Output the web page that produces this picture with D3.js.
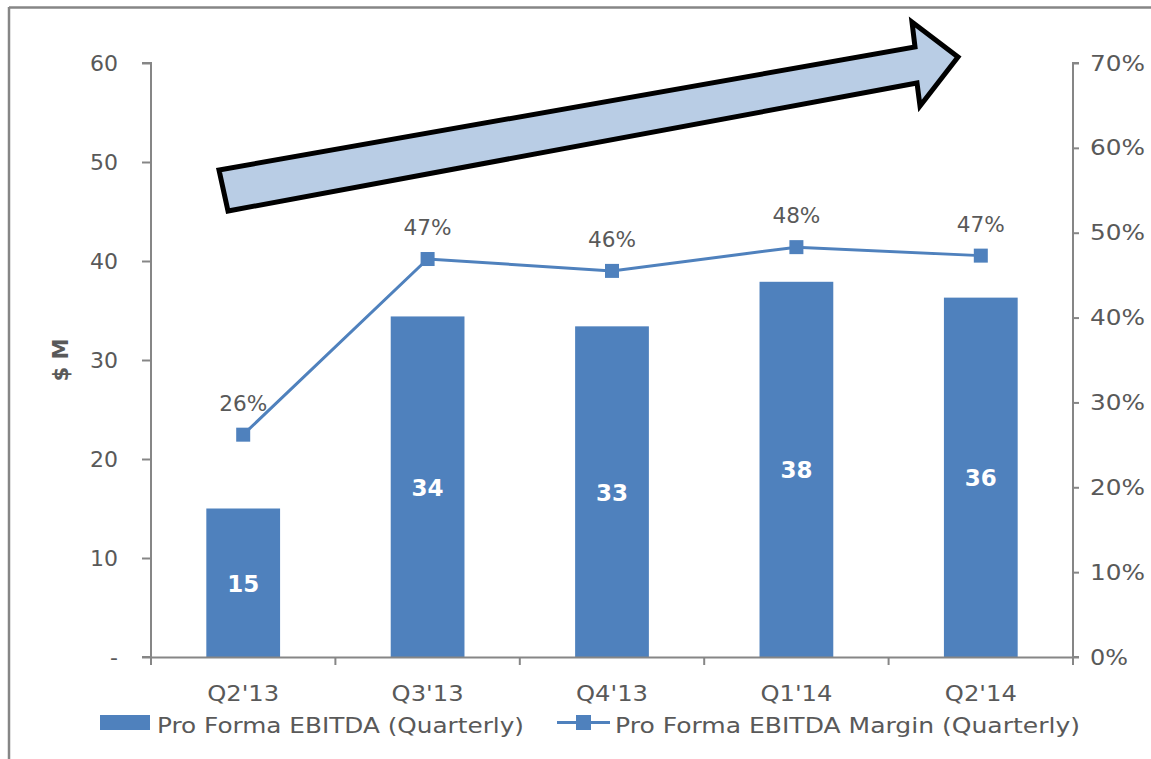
<!DOCTYPE html>
<html>
<head>
<meta charset="utf-8">
<script src="https://cdn.jsdelivr.net/npm/d3@7"></script>
<style>
  body { margin: 0; background: #fff; }
  text { font-family: "DejaVu Sans", sans-serif; }
</style>
</head>
<body>
<div id="chart"></div>
<script>
const quarters = ["Q2'13", "Q3'13", "Q4'13", "Q1'14", "Q2'14"]
const ebitda = [15.0, 34.4, 33.4, 37.9, 36.3]
const ebitdaLabels = ["15", "34", "33", "38", "36"]
const margin = [26.2, 46.9, 45.5, 48.3, 47.3]
const marginLabels = ["26%", "47%", "46%", "48%", "47%"]
const leftTicks = [0, 10, 20, 30, 40, 50, 60]
const rightTicks = [0, 10, 20, 30, 40, 50, 60, 70]
const seriesNames = ["Pro Forma EBITDA (Quarterly)", "Pro Forma EBITDA Margin (Quarterly)"]

const width = 1151
const height = 759
const pad = {left: 151, right: 1073, top: 63, bottom: 657}
const barColor = "#4f81bd"
const textColor = "#595959"
const axisColor = "#868686"
const fs = 22

const svg = d3.select("#chart").append("svg")
    .attr("width", width)
    .attr("height", height)

// outer frame (only top and left visible)
svg.append("line").attr("x1", 9).attr("x2", width).attr("y1", 7.5).attr("y2", 7.5)
    .attr("stroke", axisColor).attr("stroke-width", 2.5)
svg.append("line").attr("x1", 9).attr("x2", 9).attr("y1", 7).attr("y2", height)
    .attr("stroke", axisColor).attr("stroke-width", 2.5)

const x = d3.scaleBand().domain(quarters).range([pad.left, pad.right]).paddingInner(0.6).paddingOuter(0.3)
const xb = d3.scaleBand().domain(quarters).range([pad.left, pad.right])
const yL = d3.scaleLinear().domain([0, 60]).range([pad.bottom, pad.top])
const yR = d3.scaleLinear().domain([0, 70]).range([pad.bottom, pad.top])

// bars
svg.selectAll(".bar").data(ebitda).enter().append("rect")
    .attr("class", "bar")
    .attr("x", (d, i) => x(quarters[i]))
    .attr("width", x.bandwidth())
    .attr("y", d => yL(d))
    .attr("height", d => yL(0) - yL(d))
    .attr("fill", barColor)

svg.selectAll(".barlab").data(ebitda).enter().append("text")
    .attr("x", (d, i) => x(quarters[i]) + x.bandwidth() / 2)
    .attr("y", d => (yL(d) + yL(0)) / 2 + 9)
    .attr("text-anchor", "middle")
    .attr("fill", "#fff")
    .attr("font-weight", "bold")
    .attr("font-size", 23)
    .text((d, i) => ebitdaLabels[i])

// left axis
const leftAxis = d3.axisLeft(yL).tickValues(leftTicks).tickSize(9).tickPadding(24)
    .tickFormat(d => d === 0 ? "-" : d)
const gl = svg.append("g").attr("transform", `translate(${pad.left},0)`).call(leftAxis)

// right axis
const rightAxis = d3.axisRight(yR).tickValues(rightTicks).tickSize(6).tickPadding(11)
    .tickFormat(d => d + "%")
const gr = svg.append("g").attr("transform", `translate(${pad.right},0)`).call(rightAxis)

// bottom axis
const bottomAxis = d3.axisBottom(xb).tickSize(0).tickPadding(28)
const gb = svg.append("g").attr("transform", `translate(0,${pad.bottom})`).call(bottomAxis)
gb.selectAll(".cat-tick").data(d3.range(quarters.length + 1)).enter().append("line")
    .attr("class", "cat-tick")
    .attr("x1", i => pad.left + i * xb.step())
    .attr("x2", i => pad.left + i * xb.step())
    .attr("y1", 0).attr("y2", 8)
    .attr("stroke", axisColor).attr("stroke-width", 2)

for (const g of [gl, gr, gb]) {
  g.select(".domain").attr("stroke", axisColor).attr("stroke-width", 2)
  g.selectAll(".tick line").attr("stroke", axisColor).attr("stroke-width", 2)
  g.selectAll(".tick text").attr("fill", textColor).attr("font-size", fs)
      .style("font-family", "'DejaVu Sans', sans-serif")
}
gb.selectAll(".tick text").attr("textLength", 72).attr("lengthAdjust", "spacingAndGlyphs")
gr.selectAll(".tick text").attr("textLength", (d) => d === 0 ? 38 : 55).attr("lengthAdjust", "spacingAndGlyphs")
gr.select(".domain").attr("d", `M6,${pad.top}H0V${pad.bottom}H6`)
gl.select(".domain").attr("d", `M-9,${pad.top}H0V${pad.bottom}H-9`)

// y title
svg.append("text")
    .attr("transform", `translate(68,360) rotate(-90)`)
    .attr("text-anchor", "middle")
    .attr("fill", textColor)
    .attr("font-weight", "bold")
    .attr("font-size", 21)
    .text("$ M")

// margin line
const cx = (d, i) => xb(quarters[i]) + xb.bandwidth() / 2
const line = d3.line().x((d, i) => cx(d, i)).y(d => yR(d))
svg.append("path").datum(margin)
    .attr("d", line)
    .attr("fill", "none")
    .attr("stroke", barColor)
    .attr("stroke-width", 3)

svg.selectAll(".mk").data(margin).enter().append("rect")
    .attr("x", (d, i) => cx(d, i) - 7)
    .attr("y", d => yR(d) - 7)
    .attr("width", 14).attr("height", 14)
    .attr("fill", barColor)

svg.selectAll(".mlab").data(margin).enter().append("text")
    .attr("x", (d, i) => cx(d, i))
    .attr("y", d => yR(d) - 24)
    .attr("text-anchor", "middle")
    .attr("fill", textColor)
    .attr("font-size", fs)
    .attr("textLength", 48)
    .attr("lengthAdjust", "spacingAndGlyphs")
    .text((d, i) => marginLabels[i])

// big trend arrow
const arrow = [[228, 211], [219, 170], [915, 47], [912, 22], [958, 57], [920, 106], [917, 83]]
svg.append("path")
    .attr("d", d3.line()(arrow) + "Z")
    .attr("fill", "#b9cde5")
    .attr("stroke", "#000")
    .attr("stroke-width", 5)
    .attr("stroke-linejoin", "miter")

// legend
const lg = svg.append("g")
lg.append("rect").attr("x", 100).attr("y", 715).attr("width", 50).attr("height", 15).attr("fill", barColor)
lg.append("text").attr("x", 157).attr("y", 733).attr("fill", textColor).attr("font-size", fs)
    .attr("textLength", 367).attr("lengthAdjust", "spacingAndGlyphs").text(seriesNames[0])
lg.append("line").attr("x1", 557).attr("x2", 610).attr("y1", 722.5).attr("y2", 722.5)
    .attr("stroke", barColor).attr("stroke-width", 3)
lg.append("rect").attr("x", 576).attr("y", 715).attr("width", 15).attr("height", 15).attr("fill", barColor)
lg.append("text").attr("x", 615).attr("y", 733).attr("fill", textColor).attr("font-size", fs)
    .attr("textLength", 465).attr("lengthAdjust", "spacingAndGlyphs").text(seriesNames[1])
</script>
</body>
</html>
